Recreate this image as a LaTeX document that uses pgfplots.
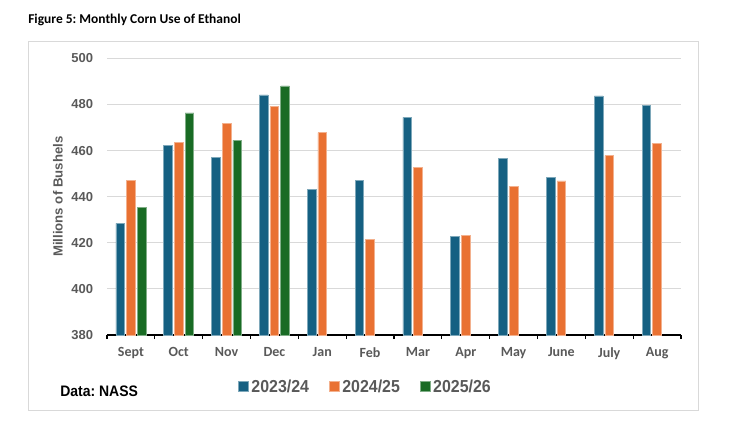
\documentclass[border=0pt]{standalone}
\usepackage{fontspec}
\setmainfont{Liberation Sans}
\newfontfamily\calibri{Carlito}
\newfontfamily\narrow{Liberation Sans}[FakeStretch=0.92]
\usepackage{pgfplots}
\pgfplotsset{compat=1.18}

\definecolor{c2324}{HTML}{156082}
\definecolor{c2425}{HTML}{E97132}
\definecolor{c2526}{HTML}{196B24}
\definecolor{gridgrey}{HTML}{D9D9D9}
\definecolor{textgrey}{HTML}{595959}

\begin{document}
\frenchspacing
\begin{tikzpicture}
\useasboundingbox (0,0) rectangle (565.5pt,321.75pt);
\draw[gridgrey, line width=0.75pt] (21pt,13.7pt) rectangle (523.9pt,290.5pt);
\node[anchor=west, inner sep=0pt, font=\calibri\bfseries\fontsize{10.1}{12}\selectfont]
  at (21pt,306.75pt) {Figure 5: Monthly Corn Use of Ethanol};
\node[anchor=west, inner sep=0pt, font=\narrow\bfseries\fontsize{11.4}{13}\selectfont]
  at (45pt,28pt) {Data: NASS};
\begin{axis}[
  at={(80.25pt,70.5pt)}, anchor=south west,
  width=430.5pt, height=207.5pt, scale only axis,
  /pgf/number format/assume math mode=true,
  ybar=1.5pt, bar width=6.5pt,
  xmin=-0.5, xmax=11.5,
  ymin=380, ymax=500,
  xtick={0,...,11},
  xticklabels={Sept,Oct,Nov,Dec,Jan,Feb,Mar,Apr,May,June,July,Aug},
  minor xtick={-0.5,0.5,...,11.5},
  ytick={380,400,...,500},
  axis x line*=bottom, axis y line*=left,
  y axis line style={draw=none},
  x axis line style={black, line width=1pt},
  major tick length=0pt, minor tick length=3pt,
  tick align=outside,
  minor x tick style={black, line width=0.8pt},
  ytick style={draw=none},
  ymajorgrids, grid style={gridgrey, line width=0.75pt},
  xticklabel style={font=\calibri\bfseries\fontsize{10.5}{12}\selectfont, text=textgrey, inner sep=0pt, yshift=-9pt},
  yticklabel style={font=\bfseries\fontsize{9.75}{11}\selectfont, text=textgrey, inner sep=0pt, xshift=-10.3pt},
  ylabel={Millions of Bushels},
  ylabel style={font=\bfseries\fontsize{9.9}{11}\selectfont, text=textgrey, at={(axis description cs:-0.0854,0.5)}, anchor=center},
  legend columns=3,
  legend style={at={(0.451,-0.187)}, anchor=center, draw=none, fill=none,
    font=\narrow\bfseries\fontsize{13}{15}\selectfont, text=textgrey,
    /tikz/every even column/.append style={column sep=13pt}},
  legend image code/.code={\fill[#1] (0pt,-3.75pt) rectangle (7.5pt,3.75pt);},
]
\addplot[fill=c2324, draw=c2324!55!white, line width=0.4pt] coordinates {
  (0,428.4) (1,462.3) (2,457.1) (3,484.1) (4,443.2) (5,446.9)
  (6,474.4) (7,422.8) (8,456.6) (9,448.4) (10,483.7) (11,479.5)};
\addplot[fill=c2425, draw=c2425!55!white, line width=0.4pt] coordinates {
  (0,447.1) (1,463.4) (2,471.7) (3,479.3) (4,467.8) (5,421.5)
  (6,452.7) (7,423.1) (8,444.3) (9,446.8) (10,457.8) (11,463.1)};
\addplot[fill=c2526, draw=c2526!55!white, line width=0.4pt] coordinates {
  (0,435.2) (1,476.3) (2,464.4) (3,488.1)};
\legend{2023/24,2024/25,2025/26}
\end{axis}
\end{tikzpicture}
\end{document}
